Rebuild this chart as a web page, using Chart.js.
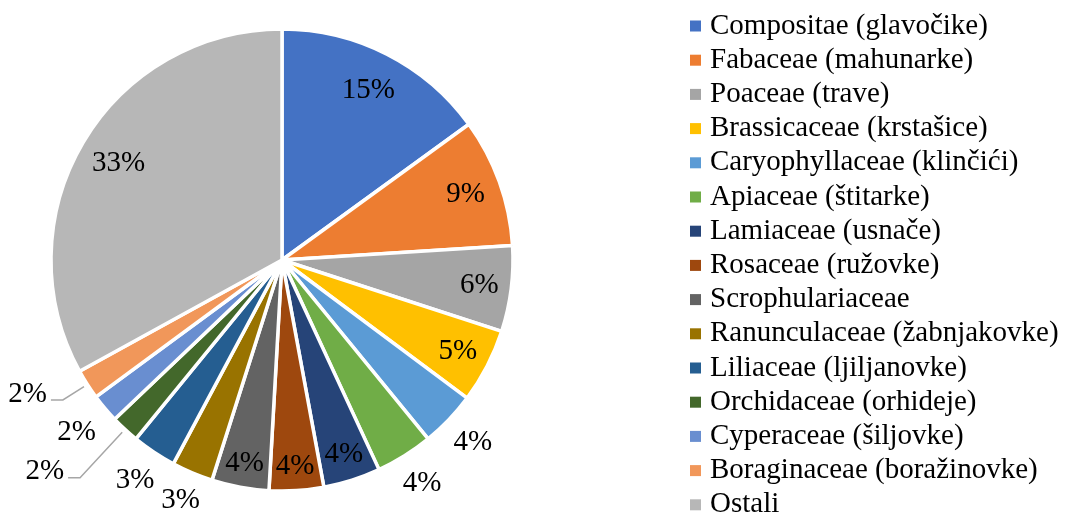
<!DOCTYPE html>
<html>
<head>
<meta charset="utf-8">
<script src="https://cdn.jsdelivr.net/npm/chart.js@4.4.0/dist/chart.umd.min.js"></script>
<style>
  html, body { margin: 0; padding: 0; background: #fff; overflow: hidden; }
  #wrap { position: relative; width: 1065px; height: 513px; }
</style>
</head>
<body>
<div id="wrap"><canvas id="familyChart"></canvas></div>
<script>
// plant families and their share (%)
const families = [
    'Compositae (glavočike)',
    'Fabaceae (mahunarke)',
    'Poaceae (trave)',
    'Brassicaceae (krstašice)',
    'Caryophyllaceae (klinčići)',
    'Apiaceae (štitarke)',
    'Lamiaceae (usnače)',
    'Rosaceae (ružovke)',
    'Scrophulariaceae',
    'Ranunculaceae (žabnjakovke)',
    'Liliaceae (ljiljanovke)',
    'Orchidaceae (orhideje)',
    'Cyperaceae (šiljovke)',
    'Boraginaceae (boražinovke)',
    'Ostali'
];
const shares = [15.0, 9.0, 6.0, 5.2, 3.9, 4.0, 4.0, 3.8, 4.0, 2.9, 3.1, 2.0, 2.0, 2.1, 33.0];
const colors = ['#4472C4', '#ED7D31', '#A5A5A5', '#FFC000', '#5B9BD5', '#70AD47', '#264478',
                '#9E480E', '#636363', '#997300', '#255E91', '#43682B', '#698ED0', '#F1975A', '#B7B7B7'];

// label distance from centre (px); null = label with leader line
const labelDist = [190, 195, 199, 198, 264, 264, 204, 207, 207, 261, 265, null, 268, null, 190];
const leaderElbow = { 11: 297, 13: 260 };

const serif = '"Liberation Serif", "Times New Roman", serif';

const pieLabels = {
    id: 'pieLabels',
    afterDatasetsDraw(chart) {
        const ctx = chart.ctx;
        const meta = chart.getDatasetMeta(0);
        const total = shares.reduce((a, b) => a + b, 0);
        ctx.save();
        ctx.font = '29px ' + serif;
        ctx.fillStyle = '#000';
        ctx.textBaseline = 'middle';
        meta.data.forEach((arc, i) => {
            const p = arc.getProps(['x', 'y', 'startAngle', 'endAngle', 'outerRadius'], true);
            const mid = (p.startAngle + p.endAngle) / 2;
            const txt = Math.round(shares[i] / total * 100) + '%';
            if (labelDist[i] !== null) {
                ctx.textAlign = 'center';
                ctx.fillText(txt, p.x + Math.cos(mid) * labelDist[i], p.y + Math.sin(mid) * labelDist[i]);
            } else {
                const r1 = p.outerRadius + 4;
                const r2 = leaderElbow[i];
                const ex = p.x + Math.cos(mid) * r2;
                const ey = p.y + Math.sin(mid) * r2;
                ctx.strokeStyle = '#A6A6A6';
                ctx.lineWidth = 1.5;
                ctx.beginPath();
                ctx.moveTo(p.x + Math.cos(mid) * r1, p.y + Math.sin(mid) * r1);
                ctx.lineTo(ex, ey);
                ctx.lineTo(ex - 12, ey);
                ctx.stroke();
                ctx.textAlign = 'right';
                ctx.fillText(txt, ex - 16, ey - 6);
            }
        });
        ctx.restore();
    }
};

const sideLegend = {
    id: 'sideLegend',
    afterDraw(chart) {
        const ctx = chart.ctx;
        ctx.save();
        ctx.font = '29px ' + serif;
        ctx.textBaseline = 'middle';
        ctx.textAlign = 'left';
        chart.data.labels.forEach((name, i) => {
            const y = 26 + i * 34.2;
            ctx.fillStyle = chart.data.datasets[0].backgroundColor[i];
            ctx.fillRect(690, y - 5.5, 11, 11);
            ctx.fillStyle = '#000';
            ctx.fillText(name, 710, y);
        });
        ctx.restore();
    }
};

new Chart(document.getElementById('familyChart'), {
    type: 'pie',
    data: {
        labels: families,
        datasets: [{
            data: shares,
            backgroundColor: colors,
            borderColor: '#fff',
            borderWidth: 3.5,
            radius: 231
        }]
    },
    options: {
        responsive: true,
        maintainAspectRatio: false,
        animation: false,
        layout: { padding: { left: 0, right: 501, top: 7, bottom: 0 } },
        plugins: {
            legend: { display: false },
            tooltip: { enabled: false }
        }
    },
    plugins: [pieLabels, sideLegend]
});
</script>
</body>
</html>
